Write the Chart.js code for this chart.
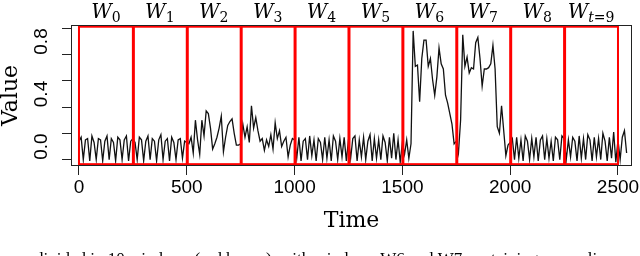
<!DOCTYPE html>
<html lang="en">
<head>
    <meta charset="UTF-8">
    <script src="https://cdn.jsdelivr.net/npm/chart.js"></script>
    <title>Windows</title>
    <style>
        body { margin: 0; background: #fff; }
        #wrap { width: 640px; height: 256px; }
    </style>
</head>
<body>
<div id="wrap"><canvas id="chart" width="640" height="256"></canvas></div>
<script>
// one value every 10 time units, per window of 250
const timeStep = 10;
const w0Values = [-0.06, -0.03, -0.20, -0.05, -0.04, -0.21, -0.02, -0.07, -0.20, -0.04, -0.05, -0.21, -0.06, -0.02, -0.20, -0.04, -0.07, -0.21, -0.03, -0.05, -0.20, -0.05, -0.02, -0.21, -0.06];
const w1Values = [-0.04, -0.07, -0.20, -0.03, -0.05, -0.21, -0.06, -0.02, -0.20, -0.04, -0.06, -0.21, -0.05, -0.01, -0.20, -0.06, -0.04, -0.21, -0.03, -0.07, -0.20, -0.05, -0.04, -0.19, -0.06];
const w2Values = [-0.07, -0.08, -0.03, -0.15, 0.10, -0.05, -0.16, 0.10, -0.02, 0.17, 0.15, 0.04, -0.12, -0.08, -0.03, 0.04, 0.13, -0.14, -0.03, 0.06, 0.09, 0.11, 0.00, -0.09, -0.09];
const w3Values = [-0.08, 0.07, -0.03, 0.05, -0.07, 0.21, 0.04, 0.12, 0.02, -0.06, -0.04, -0.13, -0.05, -0.10, -0.01, -0.12, 0.08, -0.04, 0.02, -0.10, -0.06, -0.03, -0.18, -0.09, -0.04];
const w4Values = [-0.05, -0.19, -0.03, -0.21, -0.06, -0.04, -0.20, -0.02, -0.17, -0.05, -0.21, -0.04, -0.07, -0.20, -0.03, -0.19, -0.05, -0.21, -0.02, -0.06, -0.20, -0.04, -0.18, -0.03, -0.21];
const w5Values = [-0.05, -0.19, -0.04, -0.02, -0.21, -0.05, -0.18, -0.03, -0.20, -0.06, -0.01, -0.21, -0.04, -0.19, -0.05, -0.20, -0.02, -0.07, -0.21, -0.03, -0.19, 0.00, -0.20, -0.05, -0.22];
const w6Values = [-0.07, -0.16, -0.05, -0.19, -0.08, 0.78, 0.51, 0.52, 0.24, 0.57, 0.71, 0.71, 0.51, 0.57, 0.41, 0.29, 0.43, 0.65, 0.53, 0.49, 0.29, 0.23, 0.15, 0.07, -0.08];
const w7Values = [-0.06, -0.15, 0.10, 0.75, 0.51, 0.58, 0.46, 0.50, 0.49, 0.69, 0.73, 0.57, 0.36, 0.49, 0.49, 0.50, 0.53, 0.67, 0.49, 0.05, 0.00, 0.21, 0.02, -0.17, -0.09];
const w8Values = [-0.07, -0.04, -0.20, -0.03, -0.19, -0.05, -0.21, -0.02, -0.06, -0.20, -0.04, -0.18, -0.03, -0.21, -0.05, -0.02, -0.20, -0.04, -0.19, -0.06, -0.21, -0.03, -0.05, -0.20, -0.02];
const w9Values = [-0.04, -0.20, -0.05, -0.18, -0.03, -0.06, -0.21, -0.02, -0.19, -0.04, -0.20, -0.01, -0.05, -0.21, -0.03, -0.18, -0.04, -0.20, 0.00, -0.06, -0.21, -0.03, -0.19, 0.01, -0.22, -0.05, -0.20, -0.03, 0.02, -0.15];

const windowStarts = [0, 250, 500, 750, 1000, 1250, 1500, 1750, 2000, 2250];
const windowEnds = [250, 500, 750, 1000, 1250, 1500, 1750, 2000, 2250, 2500];
const windowSubs = ['0', '1', '2', '3', '4', '5', '6', '7', '8', 't=9'];
const boxLow = -0.235;
const boxHigh = 0.812;

const xTickValues = [0, 500, 1000, 1500, 2000, 2500];
const yTickValues = [-0.2, 0, 0.2, 0.4, 0.6, 0.8];
const yTickLabels = ['', '0.0', '', '0.4', '', '0.8'];
const caption = 'divided in 10 windows (red boxes), with windows W6 and W7 containing anomalies.';

const allValues = [].concat(w0Values, w1Values, w2Values, w3Values, w4Values,
    w5Values, w6Values, w7Values, w8Values, w9Values);
const points = allValues.map((v, i) => ({ x: i * timeStep, y: v }));

const serif = "'DejaVu Serif', serif";
const sans = "'Liberation Sans', Arial, sans-serif";

// red windows, W labels, the box around the plot and the cut caption line
const extras = {
    id: 'extras',
    afterDatasetsDraw(chart) {
        const { ctx, scales: { x, y } } = chart;
        const top = y.getPixelForValue(boxHigh);
        const bot = y.getPixelForValue(boxLow);
        ctx.save();
        ctx.strokeStyle = '#ff0000';
        ctx.lineWidth = 2;
        windowStarts.forEach((s, i) => {
            const l = x.getPixelForValue(s) + (i > 0 ? 1 : 0);
            const r = x.getPixelForValue(windowEnds[i]);
            ctx.strokeRect(l, top, r - l, bot - top);
        });
        ctx.restore();
    },
    afterDraw(chart) {
        const { ctx, chartArea: a, scales: { x } } = chart;
        ctx.save();
        ctx.strokeStyle = '#222';
        ctx.lineWidth = 1;
        ctx.strokeRect(a.left + 0.5, a.top + 0.5, a.right - a.left - 1, a.bottom - a.top - 1);

        ctx.fillStyle = '#000';
        ctx.textBaseline = 'alphabetic';
        const bigFont = 'italic 20px ' + serif;
        const subFont = '14px ' + serif;
        const subItalic = 'italic 14px ' + serif;
        windowStarts.forEach((s, i) => {
            const cx = x.getPixelForValue((s + windowEnds[i]) / 2);
            const sub = windowSubs[i];
            ctx.font = bigFont;
            const wW = ctx.measureText('W').width;
            const parts = sub.startsWith('t') ? [['t', subItalic], [sub.slice(1), subFont]] : [[sub, subFont]];
            let subW = 0;
            parts.forEach(p => { ctx.font = p[1]; subW += ctx.measureText(p[0]).width; });
            let px = cx - (wW + subW) / 2;
            ctx.font = bigFont;
            ctx.fillText('W', px, 18);
            px += wW;
            parts.forEach(p => {
                ctx.font = p[1];
                ctx.fillText(p[0], px, 22);
                px += ctx.measureText(p[0]).width;
            });
        });

        ctx.font = "17px 'Liberation Serif', serif";
        ctx.fillText(caption, 35, 264);
        ctx.restore();
    }
};

new Chart(document.getElementById('chart'), {
    type: 'line',
    data: {
        datasets: [{
            data: points,
            borderColor: '#111',
            borderWidth: 1.3,
            pointRadius: 0,
            tension: 0,
            fill: false
        }]
    },
    options: {
        responsive: false,
        animation: false,
        layout: { padding: { top: 25, right: 8, left: 0, bottom: 0 } },
        plugins: { legend: { display: false }, tooltip: { enabled: false } },
        scales: {
            x: {
                type: 'linear',
                min: -37,
                max: 2565,
                afterBuildTicks: s => { s.ticks = xTickValues.map(v => ({ value: v })); },
                afterFit: s => { s.height = 90; s.paddingLeft = 0; s.paddingRight = 0; },
                grid: { drawOnChartArea: false, drawTicks: true, tickLength: 9, color: '#222' },
                border: { display: false },
                ticks: {
                    autoSkip: false,
                    maxRotation: 0,
                    padding: 1,
                    color: '#000',
                    font: { family: sans, size: 19 },
                    callback: v => String(v)
                },
                title: {
                    display: true,
                    text: 'Time',
                    color: '#000',
                    font: { family: serif, size: 22, lineHeight: 1 },
                    padding: { top: 0, bottom: 24 }
                }
            },
            y: {
                min: -0.249,
                max: 0.825,
                afterBuildTicks: s => { s.ticks = yTickValues.map(v => ({ value: v })); },
                afterFit: s => { s.width = 71; s.paddingTop = 0; s.paddingBottom = 0; },
                grid: { drawOnChartArea: false, drawTicks: true, tickLength: 9, color: '#222' },
                border: { display: false },
                ticks: {
                    autoSkip: false,
                    minRotation: 90,
                    maxRotation: 90,
                    padding: 20,
                    color: '#000',
                    font: { family: sans, size: 19 },
                    callback: (v, i) => yTickLabels[i]
                },
                title: {
                    display: true,
                    text: 'Value',
                    color: '#000',
                    font: { family: serif, size: 22, lineHeight: 1 },
                    padding: { top: 0, bottom: 0 }
                }
            }
        }
    },
    plugins: [extras]
});
</script>
</body>
</html>
